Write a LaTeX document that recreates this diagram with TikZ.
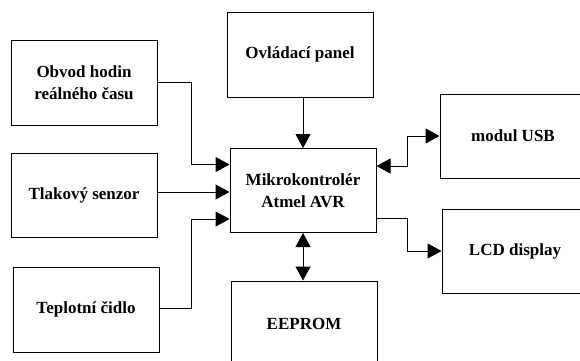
\documentclass[tikz,border=0pt]{standalone}
\usepackage{fontspec}
\setmainfont{Liberation Serif}
\usepackage{tikz}
\usetikzlibrary{
    arrows.meta,
    positioning,
    calc
}

\begin{document}
\begin{tikzpicture}[x=1pt, y=-1pt,
    block/.style={draw, line width=1pt, minimum width=146pt, minimum height=85pt,
        align=center, font=\fontsize{17}{22}\selectfont\bfseries},
    arr/.style={line width=1pt, -{Triangle[length=14pt, width=15pt]}},
    arrboth/.style={line width=1pt, {Triangle[length=14pt, width=15pt]}-{Triangle[length=14pt, width=15pt]}}]

% page frame
\useasboundingbox (0,0) rectangle (580,360);

% input blocks on the left
\node[block] (rtc) at (84,82.5) {Obvod hodin\\reálného času};
\node[block, minimum height=84pt] (tlak) at (84,195) {Tlakový senzor};
\node[block] (tepl) at (86,309.5) {Teplotní čidlo};

% control panel on top
\node[block] (panel) at (300,54.5) {Ovládací panel};

% microcontroller
\node[block, minimum height=84pt] (mcu) at (303,190.5) {Mikrokontrolér\\Atmel AVR};

% memory below
\node[block] (eeprom) at (304,323.5) {EEPROM};

% outputs on the right
\node[block, minimum height=84pt] (usb) at (513,136) {modul USB};
\node[block, minimum height=84pt] (lcd) at (515,251) {LCD display};

% inputs -> MCU
\draw[arr] (rtc.east) -- ++(34,0) |- ([yshift=26pt]mcu.west);
\draw[arr] ([yshift=3pt]tlak.east) -- ([yshift=-1.5pt]mcu.west);
\draw[arr] ([yshift=1.5pt]tepl.east) -- ++(32,0) |- ([yshift=-28.5pt]mcu.west);
\draw[arr] (mcu.north |- panel.south) -- (mcu.north);

% MCU -> outputs
\draw[arrboth] ([yshift=24.5pt]mcu.east) -- ++(31,0) |- (usb.west);
\draw[arr] ([yshift=-27.5pt]mcu.east) -- ++(31,0) |- (lcd.west);
\draw[arrboth] (mcu.south) -- (mcu.south |- eeprom.north);

\end{tikzpicture}
\end{document}
